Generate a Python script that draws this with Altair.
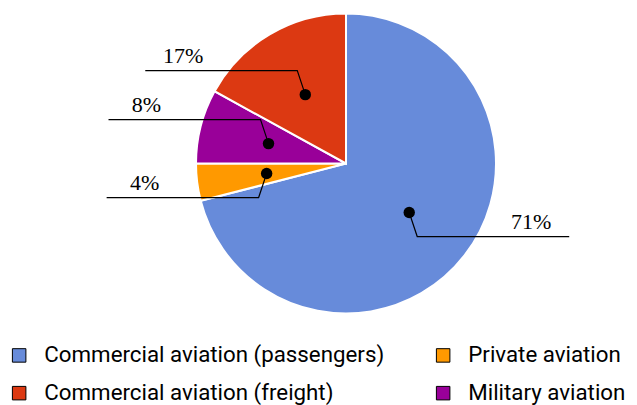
import altair as alt
import numpy as np
import pandas as pd

# ---- data ----
categories = ["Commercial aviation (passengers)", "Private aviation",
              "Military aviation", "Commercial aviation (freight)"]
shares = [71, 4, 8, 17]
labels = ["71%", "4%", "8%", "17%"]
colors = ["#678BDA", "#FF9900", "#990099", "#DC3912"]
# legend fills column by column
legend_order = ["Commercial aviation (passengers)", "Commercial aviation (freight)",
                "Private aviation", "Military aviation"]

# ---- geometry (pixels) ----
W, H = 621, 397
CX, CY = 338, 155.5          # pie centre inside plot area
R = 150
R_DOT = 80
ELBOW_DY, ELBOW_DX = 24, 8
LINE_LEN = 152
LABEL_IN = 38
LABEL_UP = 8

xdom = [-CX, W - CX]
ydom = [CY - H, CY]
xs = alt.Scale(domain=xdom, nice=False, zero=False)
ys = alt.Scale(domain=ydom, nice=False, zero=False)

color_map = dict(zip(categories, colors))
df = pd.DataFrame({"cat": categories, "share": shares, "label": labels,
                   "order": list(range(len(categories)))})

total = sum(shares)
cum = np.cumsum([0] + shares)
mid = [(cum[i] + shares[i] / 2) / total * 2 * np.pi for i in range(len(shares))]
dx = [R_DOT * np.sin(a) for a in mid]
dy = [R_DOT * np.cos(a) for a in mid]
side = [1 if np.sin(a) >= 0 else -1 for a in mid]
vside = [1 if y >= 0 else -1 for y in dy]
ex = [dx[i] + side[i] * ELBOW_DX for i in range(4)]
ey = [dy[i] + vside[i] * ELBOW_DY for i in range(4)]
lx = [ex[i] + side[i] * LINE_LEN for i in range(4)]

dots = pd.DataFrame({"x": dx, "y": dy})
lines = pd.DataFrame({
    "id": [i for i in range(4) for _ in range(3)],
    "k": [0, 1, 2] * 4,
    "x": [v for i in range(4) for v in (dx[i], ex[i], lx[i])],
    "y": [v for i in range(4) for v in (dy[i], ey[i], ey[i])],
})
texts = pd.DataFrame({
    "x": [lx[i] - side[i] * LABEL_IN for i in range(4)],
    "y": [ey[i] + LABEL_UP for i in range(4)],
    "label": labels,
})

pie = alt.Chart(df).mark_arc(outerRadius=R, stroke="white", strokeWidth=2).encode(
    theta=alt.Theta("share:Q", stack=True),
    order=alt.Order("order:Q"),
    x=alt.X(datum=0, type="quantitative", scale=xs, axis=None),
    y=alt.Y(datum=0, type="quantitative", scale=ys, axis=None),
    color=alt.Color("cat:N",
                    scale=alt.Scale(domain=legend_order,
                                    range=[color_map[c] for c in legend_order]),
                    legend=alt.Legend(
                        title=None, orient="none", legendX=0, legendY=336,
                        columns=2, columnPadding=47, rowPadding=15,
                        symbolType="square", symbolSize=182,
                        symbolStrokeColor="black", symbolStrokeWidth=1,
                        labelFont="Roboto", labelFontSize=22.3, labelColor="black",
                        labelOffset=14, labelLimit=0)),
)

leader = alt.Chart(lines).mark_line(color="black", strokeWidth=1.2).encode(
    x=alt.X("x:Q", scale=xs, axis=None),
    y=alt.Y("y:Q", scale=ys, axis=None),
    detail="id:N",
    order="k:Q",
)

pts = alt.Chart(dots).mark_point(filled=True, color="black", size=130, opacity=1).encode(
    x=alt.X("x:Q", scale=xs, axis=None),
    y=alt.Y("y:Q", scale=ys, axis=None),
)

txt = alt.Chart(texts).mark_text(font="Liberation Serif", fontSize=22, color="black",
                                 align="center", baseline="alphabetic").encode(
    x=alt.X("x:Q", scale=xs, axis=None),
    y=alt.Y("y:Q", scale=ys, axis=None),
    text="label:N",
)

chart = alt.layer(pie, leader, pts, txt).properties(
    width=W, height=H, padding=0,
    autosize=alt.AutoSizeParams(type="none"),
).configure_view(stroke=None)

chart.save("out.html", embed_options={"renderer": "svg", "actions": False})
